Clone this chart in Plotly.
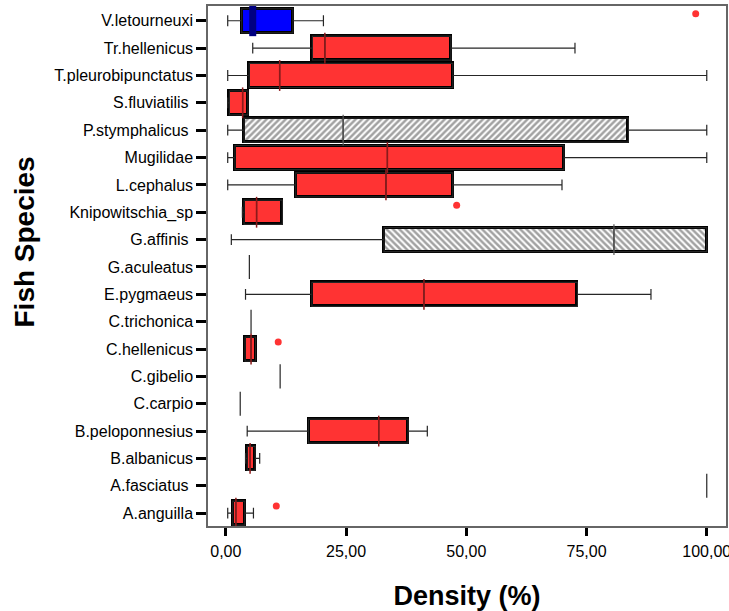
import plotly.graph_objects as go

species = ["V.letourneuxi", "Tr.hellenicus", "T.pleurobipunctatus", "S.fluviatilis\u00a0",
           "P.stymphalicus\u00a0", "Mugilidae", "L.cephalus", "Knipowitschia_sp",
           "G.affinis\u00a0", "G.aculeatus", "E.pygmaeus", "C.trichonica", "C.hellenicus",
           "C.gibelio", "C.carpio", "B.peloponnesius", "B.albanicus", "A.fasciatus\u00a0",
           "A.anguilla"]
low    = [0.4, 5.6, 0.4, 0.4, 0.4, 0.4, 0.4, 3.45, 1.15, 4.9, 4.1, 5.25, 4.0, 11.3, 3.0, 4.45, 4.1, 100.0, 0.4]
q1     = [3.3, 18.0, 4.85, 0.75, 3.8, 1.9, 14.55, 3.8, 32.9, 4.9, 17.9, 5.25, 4.0, 11.3, 3.0, 17.2, 4.45, 100.0, 1.45]
median = [5.6, 20.6, 11.2, 3.5, 24.4, 33.6, 33.3, 6.4, 80.7, 4.9, 41.2, 5.25, 5.25, 11.3, 3.0, 31.8, 5.05, 100.0, 2.1]
q3     = [13.95, 46.8, 47.2, 4.6, 83.7, 70.3, 47.2, 11.75, 100.0, 4.9, 73.1, 5.25, 6.2, 11.3, 3.0, 37.9, 6.1, 100.0, 3.95]
high   = [20.3, 72.6, 100.0, 4.6, 100.0, 100.0, 69.9, 11.75, 100.0, 4.9, 88.4, 5.25, 6.2, 11.3, 3.0, 41.9, 7.05, 100.0, 5.75]
fill_kind = ["blue", "red", "red", "red", "hatch_fwd", "red", "red", "red", "hatch_back", "red",
             "red", "red", "red", "red", "red", "red", "red", "red", "red"]

outlier_species = ["V.letourneuxi", "Knipowitschia_sp", "C.hellenicus", "A.anguilla"]
outlier_values = [97.7, 48.0, 10.9, 10.5]

x_ticks = [0, 25, 50, 75, 100]
x_ticklabels = ["0,00", "25,00", "50,00", "75,00", "100,00"]

pos = list(range(len(species)))
key = [s.strip("\u00a0") for s in species]

fill_colors = {"blue": "#0000FF", "red": "#FF3333", "hatch_fwd": "white", "hatch_back": "white"}
pattern_shapes = {"blue": "", "red": "", "hatch_fwd": "/", "hatch_back": "\\"}
median_colors = {"blue": "#000080", "red": "#8B1A1A", "hatch_fwd": "#555555", "hatch_back": "#555555"}
median_widths = {"blue": 7, "red": 1.5, "hatch_fwd": 1.2, "hatch_back": 1.2}

has_box = [q3[i] > q1[i] for i in pos]
bi = [i for i in pos if has_box[i]]

BOXW = 0.88
fig = go.Figure()

# IQR boxes (filled / hatched, thick outline)
fig.add_trace(go.Bar(
    orientation="h",
    y=[pos[i] for i in bi],
    base=[q1[i] for i in bi],
    x=[q3[i] - q1[i] for i in bi],
    width=BOXW,
    marker=dict(
        color=[fill_colors[fill_kind[i]] for i in bi],
        line=dict(color="black", width=3),
        pattern=dict(shape=[pattern_shapes[fill_kind[i]] for i in bi],
                     fgcolor="#111111", bgcolor="white", size=4.5, solidity=0.55),
    ),
    showlegend=False, hoverinfo="skip",
))

# whiskers with caps
fig.add_trace(go.Box(
    orientation="h",
    y=pos, q1=q1, median=median, q3=q3, lowerfence=low, upperfence=high,
    width=BOXW, whiskerwidth=0.45,
    line=dict(color="#262626", width=1.2),
    fillcolor="rgba(0,0,0,0)",
    boxpoints=False, showlegend=False, hoverinfo="skip",
))

# medians
fig.add_trace(go.Scatter(
    x=[median[i] for i in bi], y=[pos[i] for i in bi], mode="markers",
    marker=dict(symbol="line-ns", size=22,
                line=dict(color=[median_colors[fill_kind[i]] for i in bi],
                          width=[median_widths[fill_kind[i]] for i in bi])),
    showlegend=False, hoverinfo="skip",
))

# outliers
fig.add_trace(go.Scatter(
    x=outlier_values,
    y=[key.index(s) - 0.26 for s in outlier_species],
    mode="markers",
    marker=dict(symbol="circle", size=7, color="#FF3333"),
    showlegend=False, hoverinfo="skip",
))

fig.update_layout(
    width=729, height=611,
    margin=dict(l=208, r=3, t=6, b=85),
    paper_bgcolor="white", plot_bgcolor="white",
    font=dict(family="Liberation Sans, Arial", size=16, color="black"),
    bargap=0,
    annotations=[dict(
        text="<b>Fish Species</b>", textangle=-90, font=dict(size=28),
        xref="paper", yref="paper", x=(24 - 208) / 518, y=(526 - 242.5) / 520,
        xanchor="center", yanchor="middle", showarrow=False,
    )],
)
fig.update_xaxes(
    range=[-3.7, 104.0], tickvals=x_ticks, ticktext=x_ticklabels,
    ticks="outside", ticklen=8, tickwidth=3, tickcolor="black",
    showline=True, linecolor="#666666", linewidth=1.5, mirror=True,
    showgrid=False, zeroline=False, automargin=False, ticklabeloverflow="allow",
    ticklabelstandoff=2,
    title=dict(text="<b>Density (%)</b>", font=dict(size=27), standoff=28),
)
fig.update_yaxes(
    range=[18.47, -0.54], tickvals=pos, ticktext=species,
    ticks="outside", ticklen=10, tickwidth=3, tickcolor="black",
    showline=True, linecolor="#666666", linewidth=1.5, mirror=True,
    showgrid=False, zeroline=False, automargin=False,
)

fig.write_html("out.html", config={"displayModeBar": False},
               post_script="document.body.style.margin='0px';")
